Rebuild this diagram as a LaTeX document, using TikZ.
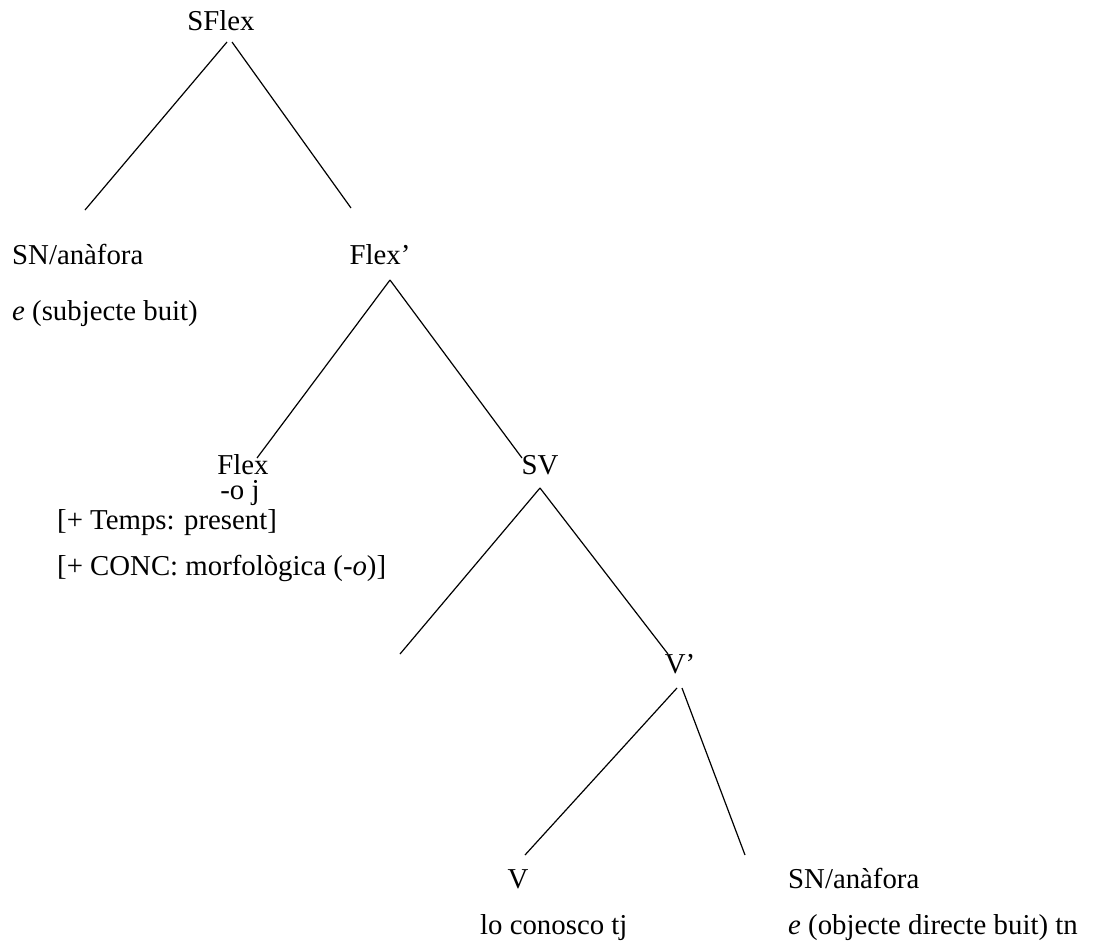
\documentclass[tikz,border=0pt]{standalone}
\usepackage{fontspec}
\setmainfont{Liberation Serif}
\begin{document}
\begin{tikzpicture}[x=1pt,y=-1pt,
  lbl/.style={inner sep=0pt,anchor=base,font=\fontsize{28.8}{34}\selectfont},
  lblw/.style={inner sep=0pt,anchor=base west,font=\fontsize{28.8}{34}\selectfont},
  branch/.style={line width=1.2pt,black}]
\useasboundingbox (0,0) rectangle (1093,950);

% labels
\node[lbl]  (sflex)  at (221,31)  {SFlex};
\node[lblw] (sn1)    at (12,264)  {SN/anàfora};
\node[lblw] (e1)     at (12,320)  {\textit{e} (subjecte buit)};
\node[lbl]  (flexb)  at (380,264) {Flex’};
\node[lbl]  (flex)   at (243,474) {Flex};
\node[lbl]  (oj)     at (240,499) {-o j};
\node[lblw] (temps)  at (57,529)  {[+ Temps: present]};
\node[lblw] (conc)   at (57,575)  {[+ CONC: morfològica (-\textit{o})]};
\node[lbl]  (sv)     at (540,474) {SV};
\node[lbl]  (vbar)   at (680,673) {V’};
\node[lbl]  (v)      at (518,888) {V};
\node[lblw] (sn2)    at (788,888) {SN/anàfora};
\node[lblw] (lo)     at (480,934) {lo conosco tj};
\node[lblw] (e2)     at (788,934) {\textit{e} (objecte directe buit) tn};

% branch end points
\coordinate (a0l) at (227,42);  \coordinate (a0r) at (232,42);
\coordinate (a1)  at (85,210);  \coordinate (a2)  at (351,208);
\coordinate (b0)  at (390,280);
\coordinate (b1)  at (257,458); \coordinate (b2)  at (522,458);
\coordinate (c0)  at (540,488);
\coordinate (c1)  at (400,654); \coordinate (c2)  at (668,654);
\coordinate (d0l) at (677,688); \coordinate (d0r) at (682,688);
\coordinate (d1)  at (525,855); \coordinate (d2)  at (745,855);

% branches
\draw[branch] (a0l) -- (a1);
\draw[branch] (a0r) -- (a2);
\draw[branch] (b0) -- (b1);
\draw[branch] (b0) -- (b2);
\draw[branch] (c0) -- (c1);
\draw[branch] (c0) -- (c2);
\draw[branch] (d0l) -- (d1);
\draw[branch] (d0r) -- (d2);
\end{tikzpicture}
\end{document}
